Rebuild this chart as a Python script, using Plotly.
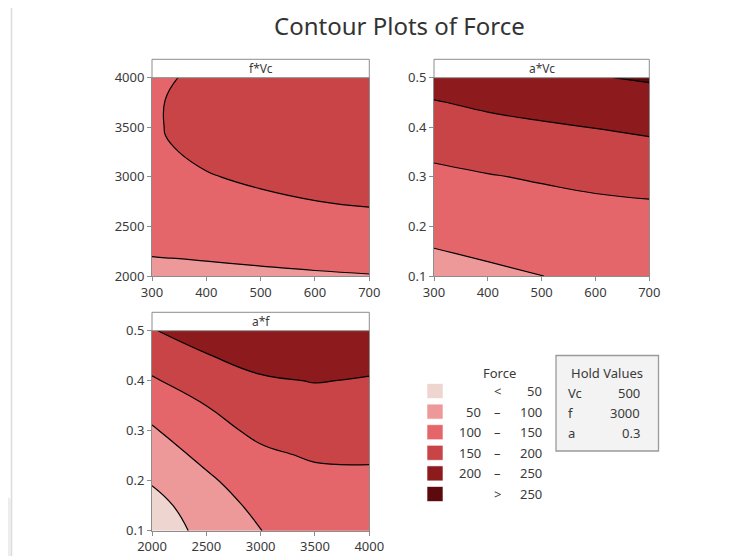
import plotly.graph_objects as go

W, H = 752, 556
OFF = 8  # the page body margin shifts the figure by 8px; compensate

# ---------------- data ----------------
levels = [50, 100, 150, 200, 250]
band_colors = ['#EFD5D0', '#EE9999', '#E4656A', '#C84446', '#8D1A1D', '#5C0A0E']

# Panel 1: f*Vc  (x = Vc, y = f), hold a = 0.3
vc1 = [300, 325, 350, 400, 500, 600, 700]
f1 = [2000, 2250, 2500, 2750, 3000, 3250, 3500, 3750, 4000]
z1 = [
    [91.0, 91.0, 91.0, 91.7, 93.5, 96.0, 98.5],
    [102.5, 103.3, 103.8, 105.6, 109.7, 114.0, 117.0],
    [113.5, 115.0, 116.0, 119.0, 126.0, 132.0, 136.0],
    [123.5, 126.0, 128.0, 132.0, 142.5, 149.5, 154.0],
    [132.0, 136.0, 140.0, 147.5, 157.0, 160.0, 164.0],
    [138.5, 148.3, 150.05, 158.0, 165.0, 168.0, 172.0],
    [142.5, 150.9, 155.0, 163.0, 171.0, 174.0, 178.0],
    [143.0, 150.6, 155.0, 166.0, 175.0, 178.0, 182.0],
    [141.0, 147.0, 150.3, 167.0, 177.0, 180.0, 185.0],
]

# Panel 2: a*Vc  (x = Vc, y = a), hold f = 3000
vc2 = [300, 400, 500, 600, 700]
a2 = [0.10, 0.15, 0.20, 0.25, 0.30, 0.35, 0.40, 0.45, 0.50]
z2 = [
    [84.0, 92.0, 99.7, 107.0, 111.3],
    [98.3, 105.8, 113.0, 119.5, 123.8],
    [112.5, 119.7, 126.2, 132.0, 136.3],
    [126.7, 133.6, 139.4, 144.5, 148.0],
    [140.9, 147.5, 154.0, 161.2, 167.6],
    [157.2, 166.3, 173.8, 180.9, 187.1],
    [177.2, 186.1, 193.7, 201.0, 207.9],
    [197.2, 208.8, 218.0, 224.3, 231.3],
    [223.9, 238.2, 244.7, 247.7, 254.7],
]

# Panel 3: a*f  (x = f, y = a), hold Vc = 500
f3 = [2000, 2500, 3000, 3500, 4000]
a3 = [0.10, 0.15, 0.20, 0.25, 0.30, 0.35, 0.40, 0.45, 0.50]
z3 = [
    [22.0, 64.0, 99.6, 116.0, 118.0],
    [36.0, 72.0, 114.0, 127.0, 128.5],
    [53.5, 91.5, 128.5, 139.0, 140.0],
    [74.0, 112.0, 142.5, 154.0, 155.5],
    [94.5, 136.0, 158.5, 169.0, 170.0],
    [119.0, 150.05, 176.5, 185.0, 184.0],
    [145.0, 175.0, 195.0, 201.5, 197.5],
    [171.0, 198.0, 215.0, 219.0, 211.0],
    [197.5, 221.0, 236.0, 237.0, 225.0],
]

vc_ticks = [300, 400, 500, 600, 700]
f_ticks = [2000, 2500, 3000, 3500, 4000]
a_ticks = [0.1, 0.2, 0.3, 0.4, 0.5]
panel_titles = ['f*Vc', 'a*Vc', 'a*f']

hold_names = ['Vc', 'f', 'a']
hold_values = ['500', '3000', '0.3']

# ---------------- helpers ----------------
def px(x):
    return (x - OFF) / W

def py(y):
    return 1 - (y - OFF) / H

FONT = 'Noto Sans, Open Sans, sans-serif'
TXT = '#3a3a3a'
AXC = '#8c8c8c'

colorscale = [[i / (len(band_colors) - 1), c] for i, c in enumerate(band_colors)]

def contour(x, y, z, xa, ya):
    return go.Contour(
        x=x, y=y, z=z, xaxis=xa, yaxis=ya,
        autocontour=False,
        contours=dict(start=levels[0], end=levels[-1], size=levels[1] - levels[0],
                      coloring='fill', showlines=True),
        colorscale=colorscale, showscale=False,
        line=dict(color='black', width=1.2, smoothing=1.3),
        hoverinfo='skip',
    )

fig = go.Figure()
fig.add_trace(contour(vc1, f1, z1, 'x', 'y'))
fig.add_trace(contour(vc2, a2, z2, 'x2', 'y2'))
fig.add_trace(contour(f3, a3, z3, 'x3', 'y3'))

# panel pixel boxes: (left, right, top, bottom)
boxes = [(152, 369.3, 77.7, 276.0), (434, 649.3, 77.7, 276.0), (152, 369.3, 330.7, 530.7)]
strip_h = 18.4

def axis(dom, rng, ticks, anchor):
    return dict(domain=dom, range=rng, tickvals=ticks, anchor=anchor, automargin=False,
                showline=True, mirror=True, linecolor=AXC, linewidth=1,
                ticks='outside', ticklen=4, tickcolor=AXC, tickwidth=1,
                showgrid=False, zeroline=False,
                tickfont=dict(family=FONT, size=13, color=TXT))

ranges = [([300, 700], vc_ticks, [2000, 4000], f_ticks),
          ([300, 700], vc_ticks, [0.1, 0.5], a_ticks),
          ([2000, 4000], f_ticks, [0.1, 0.5], a_ticks)]

layout = {}
for i, ((l, r, t, b), (xr, xt, yr, yt)) in enumerate(zip(boxes, ranges)):
    sfx = '' if i == 0 else str(i + 1)
    layout['xaxis' + sfx] = axis([px(l), px(r)], xr, xt, 'y' + sfx)
    layout['yaxis' + sfx] = axis([py(b), py(t)], yr, yt, 'x' + sfx)

shapes = []
annotations = []

# strips
for (l, r, t, b), title in zip(boxes, panel_titles):
    shapes.append(dict(type='rect', xref='paper', yref='paper',
                       x0=px(l), x1=px(r), y0=py(t), y1=py(t - strip_h),
                       fillcolor='white', line=dict(color=AXC, width=1)))
    annotations.append(dict(text=title, xref='paper', yref='paper',
                            x=px((l + r) / 2), y=py(t - strip_h / 2), showarrow=False,
                            font=dict(family=FONT, size=12, color=TXT),
                            xanchor='center', yanchor='middle'))

# title
annotations.append(dict(text='Contour Plots of Force', xref='paper', yref='paper',
                        x=px(399), y=py(25), showarrow=False,
                        font=dict(family=FONT, size=24, color='#333333'),
                        xanchor='center', yanchor='middle'))

# Force legend
annotations.append(dict(text='Force', xref='paper', yref='paper', x=px(499), y=py(373),
                        showarrow=False, font=dict(family=FONT, size=13, color=TXT),
                        xanchor='center', yanchor='middle'))
row_y0, row_dy = 391.0, 20.6
for i, c in enumerate(band_colors):
    yc = row_y0 + i * row_dy
    shapes.append(dict(type='rect', xref='paper', yref='paper',
                       x0=px(427), x1=px(443), y0=py(yc + 7.5), y1=py(yc - 7.5),
                       fillcolor=c, line=dict(color='rgba(255,255,255,0.6)', width=1)))
    if i == 0:
        left, mid, right = '', '<', str(levels[0])
    elif i == len(band_colors) - 1:
        left, mid, right = '', '>', str(levels[-1])
    else:
        left, mid, right = str(levels[i - 1]), '–', str(levels[i])
    for txt, xx, anc in [(left, 483, 'right'), (mid, 498, 'center'), (right, 544, 'right')]:
        if txt:
            annotations.append(dict(text=txt, xref='paper', yref='paper', x=px(xx), y=py(yc),
                                    showarrow=False, font=dict(family=FONT, size=13, color=TXT),
                                    xanchor=anc, yanchor='middle'))

# Hold values box
shapes.append(dict(type='rect', xref='paper', yref='paper',
                   x0=px(556), x1=px(658.5), y0=py(451), y1=py(355.5),
                   fillcolor='#f3f3f3', line=dict(color='#9a9a9a', width=1.3)))
annotations.append(dict(text='Hold Values', xref='paper', yref='paper', x=px(607), y=py(373),
                        showarrow=False, font=dict(family=FONT, size=13, color=TXT),
                        xanchor='center', yanchor='middle'))
for i, (n, v) in enumerate(zip(hold_names, hold_values)):
    yc = 392.7 + i * 20.3
    annotations.append(dict(text=n, xref='paper', yref='paper', x=px(566), y=py(yc),
                            showarrow=False, font=dict(family=FONT, size=13, color=TXT),
                            xanchor='left', yanchor='middle'))
    annotations.append(dict(text=v, xref='paper', yref='paper', x=px(642), y=py(yc),
                            showarrow=False, font=dict(family=FONT, size=13, color=TXT),
                            xanchor='right', yanchor='middle'))

# screenshot edge artefacts
shapes.append(dict(type='line', xref='paper', yref='paper', x0=px(11.5), x1=px(11.5),
                   y0=py(7), y1=py(556), line=dict(color='#dcdcdc', width=1.5)))
shapes.append(dict(type='path', xref='paper', yref='paper',
                   path=f'M {px(0)} {py(488)} L {px(11)} {py(500)} L {px(11)} {py(556)} L {px(0)} {py(556)} Z',
                   fillcolor='#ededed', line=dict(width=0)))

fig.update_layout(
    width=W, height=H, margin=dict(l=0, r=0, t=0, b=0, pad=0, autoexpand=False),
    paper_bgcolor='white', plot_bgcolor='white',
    showlegend=False, shapes=shapes, annotations=annotations,
    font=dict(family=FONT, color=TXT),
    **layout,
)

fig.write_html('out.html')
